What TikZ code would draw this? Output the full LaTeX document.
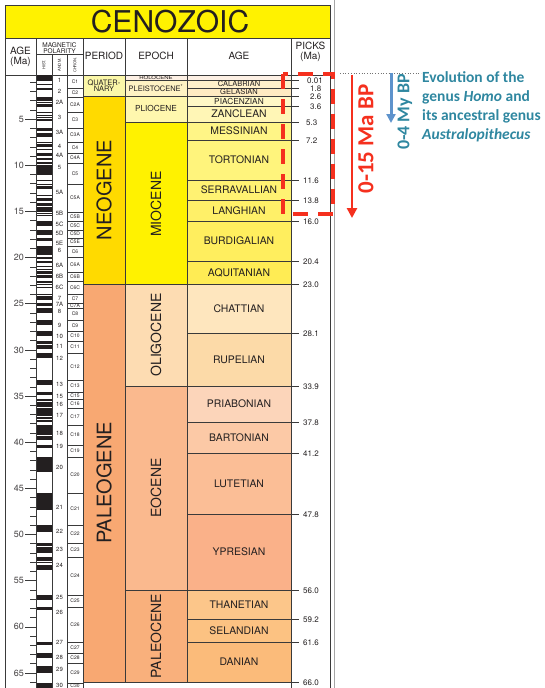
\documentclass[tikz,border=0pt]{standalone}
\usepackage{fontspec}
\setmainfont{TeX Gyre Heros}
\newfontfamily\callib{Carlito}
\usetikzlibrary{arrows.meta}

\definecolor{ink}{HTML}{231F20}
\definecolor{rulec}{HTML}{3A3A3A}
\definecolor{titleyel}{HTML}{FFF200}
\definecolor{quat}{HTML}{FBF7A8}
\definecolor{neog}{HTML}{FFDA00}
\definecolor{paleog}{HTML}{F8A872}
\definecolor{holo}{HTML}{FDF0E4}
\definecolor{pleist}{HTML}{FFF3C4}
\definecolor{plio}{HTML}{FFF7AE}
\definecolor{mio}{HTML}{FFF200}
\definecolor{oligo}{HTML}{FDDCB2}
\definecolor{eoc}{HTML}{FAB98E}
\definecolor{paleoc}{HTML}{F9B07C}
\definecolor{calab}{HTML}{FFF0CA}
\definecolor{gelas}{HTML}{FFEBC2}
\definecolor{piac}{HTML}{FFF8C6}
\definecolor{zancl}{HTML}{FFF6B6}
\definecolor{messi}{HTML}{FFF586}
\definecolor{torto}{HTML}{FFF47C}
\definecolor{serra}{HTML}{FFF272}
\definecolor{langh}{HTML}{FFF068}
\definecolor{burdi}{HTML}{FFEE5E}
\definecolor{aquit}{HTML}{FFEC54}
\definecolor{chatt}{HTML}{FEE6BE}
\definecolor{rupel}{HTML}{FCDAA8}
\definecolor{priab}{HTML}{FCD5BA}
\definecolor{barto}{HTML}{FCC9A6}
\definecolor{lutet}{HTML}{FBBE96}
\definecolor{ypres}{HTML}{FAB189}
\definecolor{thane}{HTML}{FCC68A}
\definecolor{selan}{HTML}{FCC282}
\definecolor{danian}{HTML}{FBBB7A}
\definecolor{annred}{HTML}{F5301E}
\definecolor{annblue}{HTML}{5E93CC}
\definecolor{annteal}{HTML}{2F87A0}

\begin{document}
\begin{tikzpicture}[
  x=1pt, y=-1pt,
  font=\fontsize{10}{11}\selectfont, text=ink,
  cell/.style={draw=rulec, line width=0.6pt},
  rulel/.style={draw=rulec, line width=0.6pt},
  head/.style={align=center, inner sep=0pt, font=\fontsize{10}{10.5}\selectfont},
  stage/.style={inner sep=0pt},
  bigname/.style={rotate=90, inner sep=0pt, font=\fontsize{20}{20}\selectfont},
  eponame/.style={rotate=90, inner sep=0pt, font=\fontsize{14}{14}\selectfont},
  pick/.style={anchor=west, inner sep=0pt, font=\fontsize{8}{8}\selectfont},
  anom/.style={inner sep=0pt, font=\fontsize{6}{6}\selectfont},
  chron/.style={inner sep=0pt, font=\fontsize{5}{5}\selectfont},
  agenum/.style={anchor=east, inner sep=0pt, font=\fontsize{9}{9}\selectfont, text=ink!85},
  reddash/.style={draw=annred, line width=4pt, dash pattern=on 15pt off 10pt},
  redarr/.style={draw=annred, line width=2.5pt, -{Triangle[length=10pt, width=10pt]}},
  bluearr/.style={draw=annblue, line width=3pt, -{Triangle[length=9pt, width=9pt]}},
  note/.style={inner sep=0pt, font=\callib\bfseries}
]
\useasboundingbox (0,0) rectangle (545,688);
\clip (0,0) rectangle (545,688);

% Title bar and header row
\filldraw[cell, fill=titleyel] (5,5) rectangle (330,38);
\node[inner sep=0pt, font=\fontsize{30}{30}\selectfont] (title) at (170,22) {CENOZOIC};
\draw[cell] (5,38) rectangle (330,75);
\foreach \x in {36,83,125,187,291} \draw[rulel] (\x,38) -- (\x,75);
\draw[rulel] (36,54) -- (83,54);
\draw[rulel] (52,54) -- (52,75);
\draw[rulel] (67,54) -- (67,75);
\node[head] (hage) at (20.5,57) {AGE\\(Ma)};
\node[head, font=\fontsize{6.5}{6}\selectfont] (hmag) at (59.5,48) {MAGNETIC\\POLARITY};
\node[rotate=90, inner sep=0pt, font=\fontsize{4}{4}\selectfont] (hhist) at (44,65) {HIST.};
\node[rotate=90, inner sep=0pt, font=\fontsize{4}{4}\selectfont] (hanom) at (59.5,65) {ANOM.};
\node[rotate=90, inner sep=0pt, font=\fontsize{4}{4}\selectfont] (hchron) at (75,65) {CHRON.};
\node[head] (hperiod) at (104,56) {PERIOD};
\node[head] (hepoch) at (156,56) {EPOCH};
\node[head] (hstage) at (239,56) {AGE};
\node[head] (hpicks) at (310.5,52) {PICKS\\(Ma)};

% Outer frame below the header
\draw[rulel] (5,75) -- (5,700);
\draw[rulel] (330,75) -- (330,700);

% Age scale ticks
\foreach \t in {1,...,66} {
  \pgfmathsetmacro\yy{73+9.23*\t}
  \draw[rulel] (30,\yy) -- (36,\yy);
}
\foreach \t in {5,10,...,65} {
  \pgfmathsetmacro\yy{73+9.23*\t}
  \draw[rulel] (25,\yy) -- (36,\yy);
  \node[agenum] (ma\t) at (24,\yy) {\t};
}

% Magnetic polarity stripe (normal = black)
\foreach \a/\b in {75/81, 83.5/84.5, 88/90, 97/101, 102/103, 104/106.5, 112/113,
  114.7/115.8, 117.3/118.1, 119/121, 128/131, 133/137, 142/143, 143.5/147.2,
  149/149.6, 153/156.3, 158.3/159.5, 161.6/162.4, 163/164.4, 165/175, 179.7/180.3,
  184/185.4, 186.4/188.6, 194.8/196.4, 198.4/201, 202.5/206.1, 207.1/212,
  213.1/213.8, 214.8/215.6, 221/223.1, 223.3/224.6, 225.1/226.3, 230/235,
  238/241.4, 246/254.7, 257/258.5, 260.5/262.8, 266/266.8, 268.8/269.5,
  271/271.4, 272/273.9, 274.5/277.7, 281/282.8, 284.1/285.3, 287.2/287.8,
  294/294.5, 295.7/299.8, 303/306.4, 308/313, 320/325, 331/336, 341/344,
  345/349, 353/358, 380/385, 392/395, 399/401, 402/407, 408/416, 416.8/419,
  420/422, 425/435, 436/440, 445/447.5, 457/472, 493/510, 525/532, 543/546,
  546.8/553, 557/561, 562/563, 564.5/570, 595/600, 607/610, 642/645, 653/658,
  666/673, 683/700}
  \fill[ink] (36,\a) rectangle (52,\b);
\draw[rulel] (36,75) -- (36,700);
\draw[rulel] (52,75) -- (52,700);

% Anomaly numbers
\foreach \y/\lab [count=\i] in {80/1, 91/2, 102/2A, 117/3, 132/3A, 146/4, 155/4A,
  167/5, 192/5A, 213/5B, 224/5C, 233/5D, 243/5E, 250/6, 265/6A, 276/6B, 287/6C,
  298/7, 304/7A, 311/8, 325/9, 336/10, 346/11, 358/12, 384/13, 396/15, 404/16,
  415/17, 433/18, 446/19, 467/20, 507/21, 531/22, 549/23, 565/24, 597/25, 612/26,
  642/27, 657/28, 669/29, 685/30}
  \node[anom] (an\i) at (59.5,\y) {\lab};

% Chron boxes
\foreach \a/\b/\lab [count=\i] in {75/88/C1, 88/97/C2, 97/112/C2A, 112/128/C3,
  128/142/C3A, 142/153/C4, 153/163/C4A, 163/184/C5, 184/212/C5A, 212/221/C5B,
  221/230/C5C, 230/238/C5D, 238/246/C5E, 246/257/C6, 257/272/C6A, 272/281/C6B,
  281/294/C6C, 294/303/C7, 303/308/C7A, 308/320/C8, 320/331/C9, 331/341/C10,
  341/353/C11, 353/380/C12, 380/392/C13, 392/399/C15, 399/408/C16, 408/425/C17,
  425/445/C18, 445/457/C19, 457/493/C20, 493/525/C21, 525/543/C22, 543/557/C23,
  557/595/C24, 595/607/C25, 607/642/C26, 642/653/C27, 653/663/C28, 663/683/C29,
  683/689/C30} {
  \draw[cell] (67,\a) rectangle (83,\b);
  \node[chron] (ch\i) at (75,{(\a+\b)/2}) {\lab};
}

% Period column
\filldraw[cell, fill=quat] (83,75) rectangle (125,96);
\node[align=center, inner sep=0pt, font=\fontsize{7.5}{6.5}\selectfont] (quaternary) at (104,85.5) {QUATER-\\NARY};
\filldraw[cell, fill=neog] (83,96) rectangle (125,284);
\node[bigname] (neogene) at (104,190) {NEOGENE};
\filldraw[cell, fill=paleog] (83,284) rectangle (125,682);
\node[bigname] (paleogene) at (104,483) {PALEOGENE};

% Epoch column
\filldraw[cell, fill=holo] (125,75) rectangle (187,80);
\node[inner sep=0pt, font=\fontsize{6}{6}\selectfont, yscale=0.8] (holocene) at (156,77.6) {HOLOCENE};
\filldraw[cell, fill=pleist] (125,80) rectangle (187,96);
\node[stage, font=\fontsize{7.5}{7.5}\selectfont] (pleistocene) at (156,88) {PLEISTOCENE\textsuperscript{*}};
\filldraw[cell, fill=plio] (125,96) rectangle (187,122);
\node[stage, font=\fontsize{8.3}{8.3}\selectfont] (pliocene) at (156,108) {PLIOCENE};
\filldraw[cell, fill=mio] (125,122) rectangle (187,284);
\node[eponame] (miocene) at (156,204) {MIOCENE};
\filldraw[cell, fill=oligo] (125,284) rectangle (187,386);
\node[eponame] (oligocene) at (156,335) {OLIGOCENE};
\filldraw[cell, fill=eoc] (125,386) rectangle (187,590);
\node[eponame] (eocene) at (156,488) {EOCENE};
\filldraw[cell, fill=paleoc] (125,590) rectangle (187,682);
\node[eponame] (paleocene) at (156,636) {PALEOCENE};

% Age (stage) column
\filldraw[cell, fill=holo] (187,75) rectangle (291,80);
\foreach \a/\b/\col/\lab/\fs [count=\i] in {80/88/calab/CALABRIAN/7.5,
  88/96/gelas/GELASIAN/7.5, 96/106/piac/PIACENZIAN/8.3, 106/122/zancl/ZANCLEAN/10.4,
  122/140/messi/MESSINIAN/10.4, 140/180/torto/TORTONIAN/10.4,
  180/200/serra/SERRAVALLIAN/10.3, 200/221/langh/LANGHIAN/10.4,
  221/261/burdi/BURDIGALIAN/10.4, 261/284/aquit/AQUITANIAN/10.4,
  284/333/chatt/CHATTIAN/10.4, 333/386/rupel/RUPELIAN/10.4,
  386/422/priab/PRIABONIAN/10.4, 422/453/barto/BARTONIAN/10.4,
  453/514/lutet/LUTETIAN/10.4, 514/590/ypres/YPRESIAN/10.4,
  590/619/thane/THANETIAN/10.4, 619/642/selan/SELANDIAN/10.4,
  642/682/danian/DANIAN/10.4} {
  \filldraw[cell, fill=\col] (187,\a) rectangle (291,\b);
  \node[stage, font=\fontsize{\fs}{\fs}\selectfont] (stage\i) at (239,{(\a+\b)/2}) {\lab};
}

% Picks
\draw[rulel] (291,75) -- (291,700);
\foreach \y/\v/\x [count=\i] in {80/0.01/307, 88/1.8/310, 96/2.6/310, 106/3.6/310,
  122/5.3/306, 140/7.2/306, 180/11.6/303, 200/13.8/303, 221/16.0/303, 261/20.4/303,
  284/23.0/303, 333/28.1/303, 386/33.9/303, 422/37.8/303, 453/41.2/303, 514/47.8/303,
  590/56.0/303, 619/59.2/303, 642/61.6/303, 682/66.0/303} {
  \draw[rulel] (291,\y) -- (299,\y);
  \node[pick] (pick\i) at (\x,\y+0.8) {\v};
}

% Separator line beside the chart
\draw[black!35, line width=0.8pt] (334,0) -- (334,688);

% 0-15 Ma window
\coordinate (winA) at (283,74);
\coordinate (winB) at (333,214);
\draw[reddash] (winA) rectangle (winB);
\coordinate (redtop) at (352,75);
\coordinate (redbot) at (352,218);
\draw[redarr] (redtop) -- (redbot);
\node[note, rotate=90, text=annred, font=\callib\bfseries\fontsize{23}{23}\selectfont] (redlab) at (366,139) {0-15 Ma BP};

% 0-4 My window
\coordinate (dotL) at (340,73);
\coordinate (dotR) at (421,73);
\draw[black!55, line width=0.7pt, dotted] (dotL) -- (dotR);
\coordinate (bluetop) at (391,73);
\coordinate (bluebot) at (391,123);
\draw[bluearr] (bluetop) -- (bluebot);
\node[note, rotate=90, text=annteal, font=\callib\bfseries\fontsize{18}{18}\selectfont] (bluelab) at (405,112) {0-4 My BP};
\node[note, anchor=north west, align=left, text=annteal, font=\callib\bfseries\fontsize{15.5}{19}\selectfont] (evo) at (422,71)
  {Evolution of the\\genus \textit{Homo} and\\its ancestral genus\\\textit{Australopithecus}};

\end{tikzpicture}
\end{document}
